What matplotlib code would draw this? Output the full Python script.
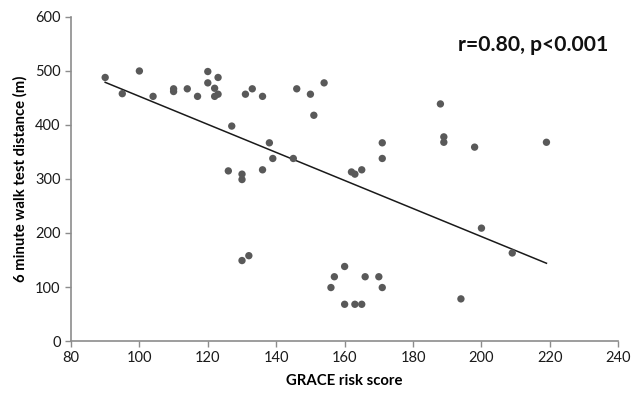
import matplotlib
matplotlib.use('Agg')
import matplotlib.pyplot as plt
import numpy as np

# GRACE score vs 6 minute walk distance
grace = [90, 95, 100, 104, 110, 110, 114, 117, 120, 120, 123, 122, 122, 123,
         127, 126, 130, 130, 131, 133, 136, 146, 150, 154, 151, 138, 139, 136,
         145, 162, 163, 165, 171, 171, 188, 189, 189, 198, 219, 130, 132,
         160, 157, 166, 170, 156, 171, 160, 163, 165, 200, 209, 194]
walk = [488, 458, 500, 453, 467, 462, 467, 453, 499, 478, 488, 468, 453, 457,
        398, 315, 309, 299, 457, 467, 453, 467, 457, 478, 418, 367, 338, 317,
        338, 313, 309, 317, 367, 338, 439, 378, 368, 359, 368, 149, 158,
        138, 119, 119, 119, 99, 99, 68, 68, 68, 209, 163, 78]

# trend line end points as drawn
fit_x = [90, 219]
fit_y = [479, 144]

xticks = [80, 100, 120, 140, 160, 180, 200, 220, 240]
yticks = [0, 100, 200, 300, 400, 500, 600]

plt.rcParams['font.family'] = ['Lato', 'DejaVu Sans']

fig = plt.figure(figsize=(6.32, 3.94), dpi=100)
ax = fig.add_axes([0.1123, 0.1345, 0.866, 0.8224])

ax.plot(fit_x, fit_y, color='#1a1a1a', lw=1.1, zorder=2)
ax.scatter(grace, walk, s=28, color='#595959', edgecolors='none', zorder=3)

ax.set_xlim(80, 240)
ax.set_ylim(0, 600)
ax.set_xticks(xticks)
ax.set_yticks(yticks)
ax.tick_params(direction='out', length=4, width=1, color='#8c8c8c',
               labelsize=10.5, labelcolor='#1a1a1a')
for side in ['top', 'right']:
    ax.spines[side].set_visible(False)
for side in ['left', 'bottom']:
    ax.spines[side].set_color('#8c8c8c')
    ax.spines[side].set_linewidth(1.2)

ax.set_xlabel('GRACE risk score', fontsize=10.7, fontweight='bold', labelpad=6)
ax.set_ylabel('6 minute walk test distance (m)', fontsize=10.7,
              fontweight='bold', labelpad=5)
ax.text(193, 548, 'r=0.80, p<0.001', fontsize=15.2, fontweight='bold',
        ha='left', va='center', color='#111111')

fig.savefig('out.png', dpi=100)
